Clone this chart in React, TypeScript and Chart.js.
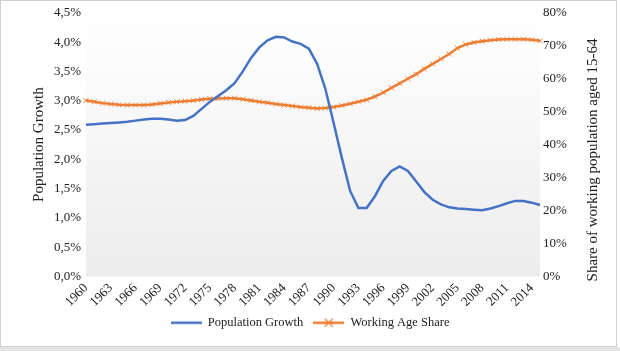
import React, { useEffect, useRef } from "react";
import { Chart, registerables } from "chart.js";

Chart.register(...registerables);

const years: string[] = [];
for (let y = 1960; y <= 2015; y++) years.push(String(y));

const populationGrowth: number[] = [
  2.59, 2.60, 2.61, 2.62, 2.63, 2.64, 2.66, 2.68, 2.69, 2.69,
  2.68, 2.66, 2.67, 2.74, 2.86, 2.98, 3.08, 3.18, 3.30, 3.50,
  3.73, 3.91, 4.03, 4.09, 4.08, 4.01, 3.97, 3.89, 3.63, 3.20,
  2.62, 2.02, 1.46, 1.17, 1.17, 1.37, 1.63, 1.80, 1.88, 1.80,
  1.62, 1.44, 1.31, 1.23, 1.18, 1.16, 1.15, 1.14, 1.13, 1.16,
  1.20, 1.25, 1.29, 1.29, 1.26, 1.22,
];

const workingAgeShare: number[] = [
  53.4, 53.0, 52.6, 52.3, 52.1, 52.0, 52.0, 52.0, 52.2, 52.5,
  52.8, 53.0, 53.2, 53.4, 53.7, 53.9, 54.0, 54.1, 54.1, 53.8,
  53.4, 53.0, 52.7, 52.3, 52.0, 51.7, 51.4, 51.2, 51.0, 51.1,
  51.4, 51.9, 52.4, 53.0, 53.6, 54.6, 55.8, 57.2, 58.6, 60.0,
  61.4, 63.0, 64.5, 66.0, 67.5, 69.3, 70.4, 71.0, 71.4, 71.7,
  71.9, 72.0, 72.0, 72.0, 71.8, 71.5,
];

const rightTitle = "Share of working population aged 15-64";

const BLUE = "#4472C4";
const ORANGE = "#ED7D31";
const FONT = "'Liberation Serif', 'Times New Roman', serif";

function legendImage(color: string, marker: boolean): HTMLCanvasElement {
  const c = document.createElement("canvas");
  c.width = 31;
  c.height = 12;
  const ctx = c.getContext("2d")!;
  ctx.strokeStyle = color;
  ctx.lineWidth = 2.5;
  ctx.beginPath();
  ctx.moveTo(0, 6);
  ctx.lineTo(31, 6);
  ctx.stroke();
  if (marker) {
    ctx.lineWidth = 1.2;
    ctx.beginPath();
    ctx.moveTo(11.5, 2);
    ctx.lineTo(19.5, 10);
    ctx.moveTo(19.5, 2);
    ctx.lineTo(11.5, 10);
    ctx.stroke();
  }
  return c;
}

const bgPlugin = {
  id: "plotBg",
  beforeDraw(chart: any) {
    const { ctx, chartArea } = chart;
    ctx.save();
    ctx.fillStyle = "#ffffff";
    ctx.fillRect(0, 0, chart.width, chart.height);
    const g = ctx.createLinearGradient(0, chartArea.top, 0, chartArea.bottom);
    g.addColorStop(0, "#ffffff");
    g.addColorStop(1, "#ececec");
    ctx.fillStyle = g;
    ctx.fillRect(chartArea.left, chartArea.top, chartArea.right - chartArea.left, chartArea.bottom - chartArea.top);
    ctx.restore();
  },
  afterDraw(chart: any) {
    const { ctx } = chart;
    ctx.save();
    ctx.fillStyle = "#222";
    ctx.font = "15px " + FONT;
    ctx.textAlign = "center";
    ctx.textBaseline = "middle";
    ctx.translate(593, 160);
    ctx.rotate(-Math.PI / 2);
    ctx.fillText(rightTitle, 0, 0);
    ctx.restore();
    ctx.save();
    ctx.strokeStyle = "#d0d0d0";
    ctx.lineWidth = 1;
    ctx.strokeRect(0.5, 0.5, 616, 346);
    ctx.fillStyle = "#e4e4e4";
    ctx.fillRect(0, 347, chart.width, 4);
    ctx.restore();
  },
};

export default function App() {
  const ref = useRef<HTMLCanvasElement | null>(null);
  useEffect(() => {
    if (!ref.current) return;
    const imgBlue = legendImage(BLUE, false);
    const imgOrange = legendImage(ORANGE, true);
    const chart = new Chart(ref.current, {
      type: "line",
      data: {
        labels: years,
        datasets: [
          {
            label: "Population Growth",
            data: populationGrowth,
            yAxisID: "y",
            borderColor: BLUE,
            backgroundColor: BLUE,
            borderWidth: 2.5,
            pointRadius: 0,
            tension: 0,
          },
          {
            label: "Working Age Share",
            data: workingAgeShare,
            yAxisID: "y1",
            borderColor: ORANGE,
            backgroundColor: ORANGE,
            borderWidth: 2.5,
            pointRadius: 3.5,
            pointBorderWidth: 1,
            pointBorderColor: ORANGE,
            pointStyle: "crossRot",
            tension: 0,
          },
        ],
      },
      options: {
        animation: false,
        responsive: false,
        layout: { padding: { top: 10, left: 0, right: 0, bottom: 12 } },
        plugins: {
          tooltip: { enabled: false },
          legend: {
            position: "bottom",
            labels: {
              usePointStyle: true,
              pointStyleWidth: 31,
              padding: 10,
              color: "#222",
              font: { family: FONT, size: 12.5 },
              generateLabels: (ch: any) =>
                ch.data.datasets.map((ds: any, i: number) => ({
                  text: ds.label,
                  pointStyle: i === 0 ? imgBlue : imgOrange,
                  fillStyle: ds.borderColor,
                  strokeStyle: ds.borderColor,
                  lineWidth: 0,
                  hidden: false,
                  datasetIndex: i,
                  fontColor: "#222",
                })),
            },
          },
        },
        scales: {
          x: {
            type: "category",
            offset: false,
            grid: { display: false, drawTicks: false },
            border: { display: false },
            afterFit: (s: any) => {
              s.height = 30;
            },
            ticks: {
              autoSkip: false,
              minRotation: 45,
              maxRotation: 45,
              padding: 4,
              color: "#222",
              font: { family: FONT, size: 13 },
              callback: (_v: any, i: number) => (i % 3 === 0 ? years[i] : ""),
            },
          },
          y: {
            position: "left",
            min: 0,
            max: 4.5,
            grid: { display: false, drawTicks: false },
            border: { display: false },
            afterFit: (s: any) => {
              s.width = 86;
            },
            ticks: {
              stepSize: 0.5,
              padding: 5,
              color: "#222",
              font: { family: FONT, size: 13 },
              callback: (v: any) => Number(v).toFixed(1).replace(".", ",") + "%",
            },
            title: {
              display: true,
              text: "Population Growth",
              color: "#222",
              font: { family: FONT, size: 15 },
              padding: { top: 30, bottom: 0 },
            },
          },
          y1: {
            position: "right",
            min: 0,
            max: 80,
            grid: { display: false, drawTicks: false },
            border: { display: false },
            afterFit: (s: any) => {
              s.width = 80;
            },
            ticks: {
              stepSize: 10,
              padding: 3,
              color: "#222",
              font: { family: FONT, size: 13 },
              callback: (v: any) => v + "%",
            },
          },
        },
      },
      plugins: [bgPlugin],
    });
    return () => chart.destroy();
  }, []);
  return (
    <div style={{ position: "absolute", left: 0, top: 0, width: 620, height: 351 }}>
      <canvas ref={ref} width={620} height={351} style={{ width: 620, height: 351, display: "block" }} />
    </div>
  );
}
